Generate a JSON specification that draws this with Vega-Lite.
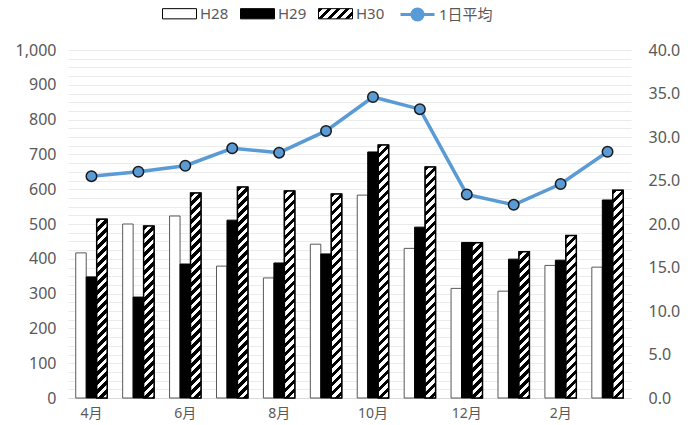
{
  "$schema": "https://vega.github.io/schema/vega-lite/v6.json",
  "width": 563,
  "height": 348,
  "autosize": "none",
  "padding": {"left": 68, "top": 50, "right": 65, "bottom": 27},
  "background": "white",
  "config": {
    "font": "Noto Sans, Noto Sans CJK JP",
    "view": {"stroke": null},
    "axis": {"labelFont": "Noto Sans, Noto Sans CJK JP", "labelFontSize": 16, "labelColor": "#595959", "ticks": false, "domain": false, "title": null},
    "legend": {"labelFont": "Noto Sans, Noto Sans CJK JP", "labelFontSize": 15, "labelColor": "#595959", "padding": 0, "labelOffset": 3, "columnPadding": 9, "symbolSize": 1156}
  },
  "params": [
    {"name": "hs", "value": [
      {"offset": 0, "color": "#000"}, {"offset": 0.0167, "color": "#000"}, {"offset": 0.0167, "color": "#fff"}, {"offset": 0.0333, "color": "#fff"},
      {"offset": 0.0333, "color": "#000"}, {"offset": 0.05, "color": "#000"}, {"offset": 0.05, "color": "#fff"}, {"offset": 0.0667, "color": "#fff"},
      {"offset": 0.0667, "color": "#000"}, {"offset": 0.0833, "color": "#000"}, {"offset": 0.0833, "color": "#fff"}, {"offset": 0.1, "color": "#fff"},
      {"offset": 0.1, "color": "#000"}, {"offset": 0.1167, "color": "#000"}, {"offset": 0.1167, "color": "#fff"}, {"offset": 0.1333, "color": "#fff"},
      {"offset": 0.1333, "color": "#000"}, {"offset": 0.15, "color": "#000"}, {"offset": 0.15, "color": "#fff"}, {"offset": 0.1667, "color": "#fff"},
      {"offset": 0.1667, "color": "#000"}, {"offset": 0.1833, "color": "#000"}, {"offset": 0.1833, "color": "#fff"}, {"offset": 0.2, "color": "#fff"},
      {"offset": 0.2, "color": "#000"}, {"offset": 0.2167, "color": "#000"}, {"offset": 0.2167, "color": "#fff"}, {"offset": 0.2333, "color": "#fff"},
      {"offset": 0.2333, "color": "#000"}, {"offset": 0.25, "color": "#000"}, {"offset": 0.25, "color": "#fff"}, {"offset": 0.2667, "color": "#fff"},
      {"offset": 0.2667, "color": "#000"}, {"offset": 0.2833, "color": "#000"}, {"offset": 0.2833, "color": "#fff"}, {"offset": 0.3, "color": "#fff"},
      {"offset": 0.3, "color": "#000"}, {"offset": 0.3167, "color": "#000"}, {"offset": 0.3167, "color": "#fff"}, {"offset": 0.3333, "color": "#fff"},
      {"offset": 0.3333, "color": "#000"}, {"offset": 0.35, "color": "#000"}, {"offset": 0.35, "color": "#fff"}, {"offset": 0.3667, "color": "#fff"},
      {"offset": 0.3667, "color": "#000"}, {"offset": 0.3833, "color": "#000"}, {"offset": 0.3833, "color": "#fff"}, {"offset": 0.4, "color": "#fff"},
      {"offset": 0.4, "color": "#000"}, {"offset": 0.4167, "color": "#000"}, {"offset": 0.4167, "color": "#fff"}, {"offset": 0.4333, "color": "#fff"},
      {"offset": 0.4333, "color": "#000"}, {"offset": 0.45, "color": "#000"}, {"offset": 0.45, "color": "#fff"}, {"offset": 0.4667, "color": "#fff"},
      {"offset": 0.4667, "color": "#000"}, {"offset": 0.4833, "color": "#000"}, {"offset": 0.4833, "color": "#fff"}, {"offset": 0.5, "color": "#fff"},
      {"offset": 0.5, "color": "#000"}, {"offset": 0.5167, "color": "#000"}, {"offset": 0.5167, "color": "#fff"}, {"offset": 0.5333, "color": "#fff"},
      {"offset": 0.5333, "color": "#000"}, {"offset": 0.55, "color": "#000"}, {"offset": 0.55, "color": "#fff"}, {"offset": 0.5667, "color": "#fff"},
      {"offset": 0.5667, "color": "#000"}, {"offset": 0.5833, "color": "#000"}, {"offset": 0.5833, "color": "#fff"}, {"offset": 0.6, "color": "#fff"},
      {"offset": 0.6, "color": "#000"}, {"offset": 0.6167, "color": "#000"}, {"offset": 0.6167, "color": "#fff"}, {"offset": 0.6333, "color": "#fff"},
      {"offset": 0.6333, "color": "#000"}, {"offset": 0.65, "color": "#000"}, {"offset": 0.65, "color": "#fff"}, {"offset": 0.6667, "color": "#fff"},
      {"offset": 0.6667, "color": "#000"}, {"offset": 0.6833, "color": "#000"}, {"offset": 0.6833, "color": "#fff"}, {"offset": 0.7, "color": "#fff"},
      {"offset": 0.7, "color": "#000"}, {"offset": 0.7167, "color": "#000"}, {"offset": 0.7167, "color": "#fff"}, {"offset": 0.7333, "color": "#fff"},
      {"offset": 0.7333, "color": "#000"}, {"offset": 0.75, "color": "#000"}, {"offset": 0.75, "color": "#fff"}, {"offset": 0.7667, "color": "#fff"},
      {"offset": 0.7667, "color": "#000"}, {"offset": 0.7833, "color": "#000"}, {"offset": 0.7833, "color": "#fff"}, {"offset": 0.8, "color": "#fff"},
      {"offset": 0.8, "color": "#000"}, {"offset": 0.8167, "color": "#000"}, {"offset": 0.8167, "color": "#fff"}, {"offset": 0.8333, "color": "#fff"},
      {"offset": 0.8333, "color": "#000"}, {"offset": 0.85, "color": "#000"}, {"offset": 0.85, "color": "#fff"}, {"offset": 0.8667, "color": "#fff"},
      {"offset": 0.8667, "color": "#000"}, {"offset": 0.8833, "color": "#000"}, {"offset": 0.8833, "color": "#fff"}, {"offset": 0.9, "color": "#fff"},
      {"offset": 0.9, "color": "#000"}, {"offset": 0.9167, "color": "#000"}, {"offset": 0.9167, "color": "#fff"}, {"offset": 0.9333, "color": "#fff"},
      {"offset": 0.9333, "color": "#000"}, {"offset": 0.95, "color": "#000"}, {"offset": 0.95, "color": "#fff"}, {"offset": 0.9667, "color": "#fff"},
      {"offset": 0.9667, "color": "#000"}, {"offset": 0.9833, "color": "#000"}, {"offset": 0.9833, "color": "#fff"}, {"offset": 1, "color": "#fff"}
    ]}
  ],
  "datasets": {
    "bars": [
      {"month": "4月", "series": "H28", "value": 417}, {"month": "4月", "series": "H29", "value": 348}, {"month": "4月", "series": "H30", "value": 514},
      {"month": "5月", "series": "H28", "value": 500}, {"month": "5月", "series": "H29", "value": 290}, {"month": "5月", "series": "H30", "value": 494},
      {"month": "6月", "series": "H28", "value": 523}, {"month": "6月", "series": "H29", "value": 385}, {"month": "6月", "series": "H30", "value": 589},
      {"month": "7月", "series": "H28", "value": 379}, {"month": "7月", "series": "H29", "value": 511}, {"month": "7月", "series": "H30", "value": 606},
      {"month": "8月", "series": "H28", "value": 345}, {"month": "8月", "series": "H29", "value": 388}, {"month": "8月", "series": "H30", "value": 595},
      {"month": "9月", "series": "H28", "value": 442}, {"month": "9月", "series": "H29", "value": 414}, {"month": "9月", "series": "H30", "value": 586},
      {"month": "10月", "series": "H28", "value": 583}, {"month": "10月", "series": "H29", "value": 707}, {"month": "10月", "series": "H30", "value": 727},
      {"month": "11月", "series": "H28", "value": 430}, {"month": "11月", "series": "H29", "value": 491}, {"month": "11月", "series": "H30", "value": 664},
      {"month": "12月", "series": "H28", "value": 315}, {"month": "12月", "series": "H29", "value": 447}, {"month": "12月", "series": "H30", "value": 446},
      {"month": "1月", "series": "H28", "value": 307}, {"month": "1月", "series": "H29", "value": 399}, {"month": "1月", "series": "H30", "value": 420},
      {"month": "2月", "series": "H28", "value": 381}, {"month": "2月", "series": "H29", "value": 396}, {"month": "2月", "series": "H30", "value": 467},
      {"month": "3月", "series": "H28", "value": 376}, {"month": "3月", "series": "H29", "value": 569}, {"month": "3月", "series": "H30", "value": 597}
    ],
    "avg": [
      {"month": "4月", "avg": 25.5}, {"month": "5月", "avg": 26.0}, {"month": "6月", "avg": 26.7}, {"month": "7月", "avg": 28.7},
      {"month": "8月", "avg": 28.2}, {"month": "9月", "avg": 30.7}, {"month": "10月", "avg": 34.6}, {"month": "11月", "avg": 33.2},
      {"month": "12月", "avg": 23.4}, {"month": "1月", "avg": 22.2}, {"month": "2月", "avg": 24.6}, {"month": "3月", "avg": 28.3}
    ]
  },
  "layer": [
    {
      "layer": [
        {
          "data": {"name": "bars"},
          "mark": {"type": "bar", "strokeWidth": 1},
          "encoding": {
            "x": {"field": "month", "type": "nominal", "sort": ["4月","5月","6月","7月","8月","9月","10月","11月","12月","1月","2月","3月"],
                  "scale": {"paddingInner": 0.33, "paddingOuter": 0.165},
                  "axis": {"labelAngle": 0, "domain": true, "domainColor": "#d9d9d9", "domainWidth": 1, "labelPadding": 8, "labelFontSize": 14,
                           "labelExpr": "indexof(['4月','6月','8月','10月','12月','2月'], datum.value) >= 0 ? datum.value : ''"}},
            "xOffset": {"field": "series", "type": "nominal", "scale": {"domain": ["H28","H29","H30"], "paddingInner": 0, "paddingOuter": 0}},
            "y": {"field": "value", "type": "quantitative", "scale": {"domain": [0, 1000]},
                  "axis": {"values": [0,25,50,75,100,125,150,175,200,225,250,275,300,325,350,375,400,425,450,475,500,525,550,575,600,625,650,675,700,725,750,775,800,825,850,875,900,925,950,975,1000],
                           "grid": true, "gridColor": "#ebebeb", "gridWidth": 1, "labelOverlap": false, "labelPadding": 12,
                           "labelExpr": "datum.value % 100 === 0 ? format(datum.value, ',') : ''"}},
            "fill": {"field": "series", "type": "nominal",
                     "scale": {"domain": ["H28","H29","H30"], "range": ["#ffffff","#000000", {"expr": "{gradient:'linear', x1:0, y1:0, x2:7.29, y2:2.19, stops: hs}"}]},
                     "legend": {"orient": "none", "legendX": 94, "legendY": -54, "direction": "horizontal", "title": null,
                                "symbolType": "M-1,-0.3H1V0.3H-1Z", "symbolStrokeColor": "#000000", "symbolStrokeWidth": 1}},
            "stroke": {"value": {"expr": "datum.series === 'H28' ? '#595959' : '#000000'"}}
          }
        },
        {
          "data": {"name": "bars"},
          "transform": [{"filter": "datum.series === 'H30'"}],
          "mark": {"type": "bar", "stroke": "#000000", "strokeWidth": 1.5},
          "encoding": {
            "x": {"field": "month", "type": "nominal", "sort": ["4月","5月","6月","7月","8月","9月","10月","11月","12月","1月","2月","3月"],
                  "axis": {"labelAngle": 0, "domain": true, "domainColor": "#d9d9d9", "domainWidth": 1, "labelPadding": 8, "labelFontSize": 14,
                           "labelExpr": "indexof(['4月','6月','8月','10月','12月','2月'], datum.value) >= 0 ? datum.value : ''"}},
            "xOffset": {"field": "series", "type": "nominal", "scale": {"domain": ["H28","H29","H30"], "paddingInner": 0, "paddingOuter": 0}},
            "y": {"field": "value", "type": "quantitative",
                  "axis": {"values": [0,25,50,75,100,125,150,175,200,225,250,275,300,325,350,375,400,425,450,475,500,525,550,575,600,625,650,675,700,725,750,775,800,825,850,875,900,925,950,975,1000],
                           "grid": true, "gridColor": "#ebebeb", "gridWidth": 1, "labelOverlap": false, "labelPadding": 12,
                           "labelExpr": "datum.value % 100 === 0 ? format(datum.value, ',') : ''"}},
            "fill": {"value": {"expr": "{gradient:'linear', x1:0, y1:0, x2: 10.48*270/(109.8+pow(datum.value*0.348,2)), y2: datum.value*0.348*270/(109.8+pow(datum.value*0.348,2)), stops: hs}"}}
          }
        }
      ]
    },
    {
      "data": {"name": "avg"},
      "mark": {"type": "line", "strokeWidth": 3.5,
               "point": {"filled": true, "stroke": "#1a1a1a", "strokeWidth": 1.5, "size": 110}},
      "encoding": {
        "x": {"field": "month", "type": "nominal", "sort": ["4月","5月","6月","7月","8月","9月","10月","11月","12月","1月","2月","3月"],
              "axis": {"labelAngle": 0, "domain": true, "domainColor": "#d9d9d9", "domainWidth": 1, "labelPadding": 8, "labelFontSize": 14,
                       "labelExpr": "indexof(['4月','6月','8月','10月','12月','2月'], datum.value) >= 0 ? datum.value : ''"}},
        "y": {"field": "avg", "type": "quantitative", "scale": {"domain": [0, 40]},
              "axis": {"orient": "right", "values": [0,5,10,15,20,25,30,35,40], "format": ".1f", "grid": false, "labelPadding": 17, "labelOverlap": false}},
        "color": {"datum": "1日平均", "type": "nominal", "scale": {"range": ["#5B9BD5"]},
                  "legend": {"orient": "none", "legendX": 331, "legendY": -54, "direction": "horizontal", "title": null,
                             "symbolType": "M-1,0H1M0.33,0A0.33,0.33,0,1,1,-0.33,0A0.33,0.33,0,1,1,0.33,0",
                             "symbolStrokeWidth": 3, "symbolFillColor": "#5B9BD5", "symbolStrokeColor": "#5B9BD5"}}
      }
    }
  ],
  "resolve": {"scale": {"y": "independent"}}
}
